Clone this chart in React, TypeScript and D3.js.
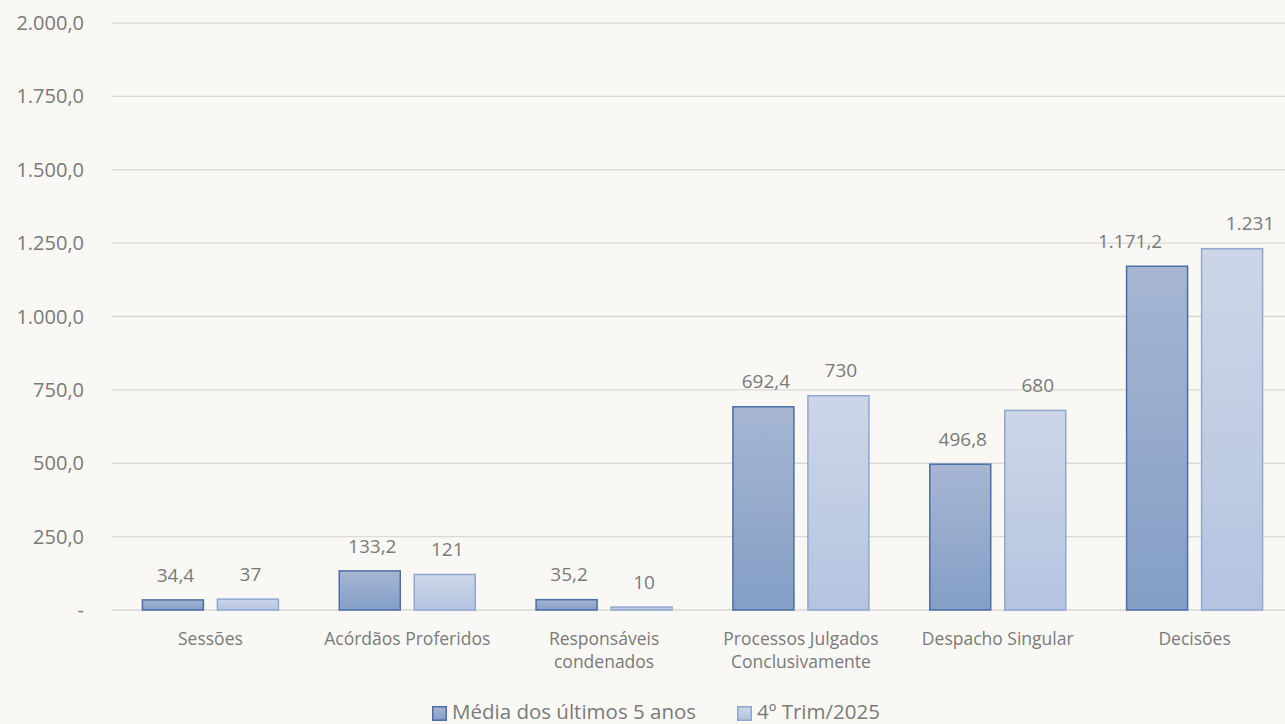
import React from 'react';
import * as d3 from 'd3';

const categories = [
  ['Sessões'],
  ['Acórdãos Proferidos'],
  ['Responsáveis', 'condenados'],
  ['Processos Julgados', 'Conclusivamente'],
  ['Despacho Singular'],
  ['Decisões'],
];
const mediaValues = [34.4, 133.2, 35.2, 692.4, 496.8, 1171.2];
const trimValues = [37, 121, 10, 730, 680, 1231];
const seriesNames = ['Média dos últimos 5 anos', '4º Trim/2025'];
const yTicks = [0, 250, 500, 750, 1000, 1250, 1500, 1750, 2000];

const W = 1285;
const H = 724;
const FONT = '"Open Sans", "Noto Sans", sans-serif';
const TEXT = '#7a7a7a';

// Excel pushed the two labels of the last group apart so they do not collide
const labelNudge = (i: number, j: number) => (i === 5 ? (j === 0 ? -27 : 18) : 2.5);

const ptBr = (s: string) => s.replace(/,/g, '#').replace('.', ',').replace(/#/g, '.');
const fmtTick = (v: number) => (v === 0 ? '-' : ptBr(d3.format(',.1f')(v)));
const fmtMedia = (v: number) => ptBr(d3.format(',.1f')(v));
const fmtTrim = (v: number) => d3.format(',')(v).replace(/,/g, '.');

export default function App() {
  const x = d3
    .scaleBand<number>()
    .domain(categories.map((_, i) => i))
    .range([112, 1293])
    .paddingInner(0)
    .paddingOuter(0);
  const y = d3.scaleLinear().domain([0, 2000]).range([610, 23]);

  const barW = 61;
  const gap = 14;
  const series = [
    { values: mediaValues, fill: 'url(#gDark)', stroke: '#4a6ea6', fmt: fmtMedia },
    { values: trimValues, fill: 'url(#gLight)', stroke: '#90a7d0', fmt: fmtTrim },
  ];

  return (
    <svg
      width={W}
      height={H}
      style={{ position: 'absolute', left: 0, top: 0, background: '#f9f8f4' }}
      fontFamily={FONT}
    >
      <defs>
        <linearGradient id="gDark" x1="0" y1="0" x2="0" y2="1">
          <stop offset="0%" stopColor="#a6b6d2" />
          <stop offset="100%" stopColor="#849ec6" />
        </linearGradient>
        <linearGradient id="gLight" x1="0" y1="0" x2="0" y2="1">
          <stop offset="0%" stopColor="#ccd6e8" />
          <stop offset="100%" stopColor="#b4c4e0" />
        </linearGradient>
      </defs>
      <rect width={W} height={H} fill="#f9f8f4" />
      {yTicks.map((t) => (
        <g key={t}>
          <line x1={112} x2={1285} y1={y(t)} y2={y(t)} stroke="#d9d9d9" strokeWidth={1.3} />
          <text x={84} y={y(t)} dy="0.35em" textAnchor="end" fontSize={20} fill={TEXT}>
            {fmtTick(t)}
          </text>
        </g>
      ))}
      {categories.map((lines, i) => {
        const cx = (x(i) as number) + x.bandwidth() / 2;
        return (
          <g key={i}>
            {series.map((s, j) => {
              const bx = j === 0 ? cx - gap / 2 - barW : cx + gap / 2;
              const v = s.values[i];
              return (
                <g key={j}>
                  <rect
                    x={bx}
                    y={y(v)}
                    width={barW}
                    height={y(0) - y(v)}
                    fill={s.fill}
                    stroke={s.stroke}
                    strokeWidth={1.5}
                  />
                  <text
                    x={bx + barW / 2 + labelNudge(i, j)}
                    y={y(v) - 25}
                    dy="0.35em"
                    textAnchor="middle"
                    fontSize={19}
                    fill={TEXT}
                  >
                    {s.fmt(v)}
                  </text>
                </g>
              );
            })}
            {lines.map((ln, k) => (
              <text
                key={k}
                x={cx}
                y={639 + k * 23}
                dy="0.35em"
                textAnchor="middle"
                fontSize={17.5}
                fill={TEXT}
              >
                {ln}
              </text>
            ))}
          </g>
        );
      })}
      {seriesNames.map((name, j) => {
        const lx = j === 0 ? 432 : 737;
        return (
          <g key={name}>
            <rect
              x={lx + 0.75}
              y={706.75}
              width={13.5}
              height={13.5}
              fill={series[j].fill}
              stroke={series[j].stroke}
              strokeWidth={1.5}
            />
            <text x={lx + 20} y={712} dy="0.35em" fontSize={20.5} fill={TEXT}>
              {name}
            </text>
          </g>
        );
      })}
    </svg>
  );
}
